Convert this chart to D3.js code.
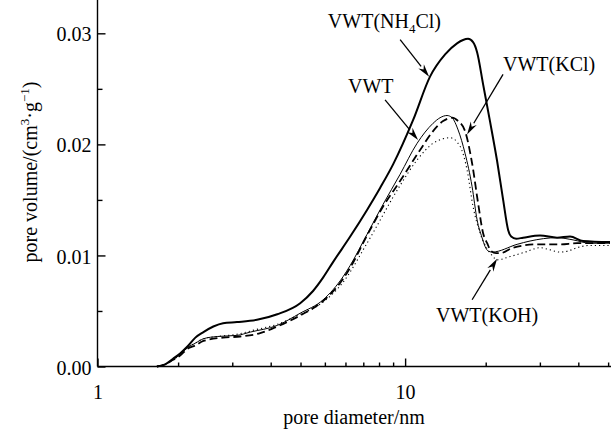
<!DOCTYPE html>
<html>
<head>
<meta charset="utf-8">
<script src="https://cdn.jsdelivr.net/npm/d3@7"></script>
<style>
  body { margin: 0; background: #fff; }
  svg { display: block; }
  text { font-family: "Liberation Serif", "Times New Roman", serif; fill: #000; }
</style>
</head>
<body>
<svg id="chart" width="611" height="430"></svg>
<script>
// pore size distribution (nm, cm3/g)
const vwtX = [1.56, 1.66, 1.76, 1.86, 1.96, 2.08, 2.21, 2.45, 2.84, 3.14, 3.84, 4.56, 5.41, 6.29, 6.63, 7.52, 8.48, 9.63, 10.94, 12.33, 12.99, 13.69, 14.21, 14.87, 15.66, 16.51, 17.14, 17.79, 18.20, 18.61, 19.18, 23.13, 25.48, 31.19, 35.16, 39.92, 46.35];
const vwtY = [0, .0002, .0006, .0011, .0017, .0021, .0025, .0027, .0028, .0031, .0037, .0048, .0060, .0081, .0091, .0119, .0146, .0173, .0201, .0219, .0224, .0226, .0224, .0213, .0192, .0162, .0132, .0116, .0108, .0104, .0103, .0110, .0113, .0116, .0114, .0111, .0111];

const kclX = [1.56, 1.66, 1.76, 1.86, 1.96, 2.08, 2.21, 2.56, 2.91, 3.38, 3.84, 4.56, 5.41, 6.29, 6.63, 7.52, 8.48, 9.63, 11.19, 12.33, 13.29, 14.21, 14.87, 15.66, 16.51, 17.27, 17.93, 18.48, 19.04, 19.76, 20.37, 22.44, 26.85, 31.90, 36.24, 43.01, 46.35];
const kclY = [0, .0002, .0006, .0010, .0016, .0019, .0023, .0026, .0027, .0030, .0036, .0046, .0059, .0079, .0089, .0118, .0144, .0167, .0195, .0212, .0221, .0224, .0221, .0212, .0183, .0147, .0120, .0111, .0104, .0102, .0102, .0107, .0110, .0110, .0111, .0111, .0111];

const kohX = [1.56, 1.66, 1.76, 1.86, 1.96, 2.08, 2.21, 2.45, 2.84, 3.25, 3.84, 4.56, 5.41, 6.29, 7.52, 9.63, 10.94, 12.33, 13.29, 14.0, 15.1, 15.9, 16.63, 17.53, 18.48, 19.18, 19.91, 21.95, 24.55, 27.47, 29.6, 31.9, 33.87, 36.24, 39.92, 46.35];
const kohY = [0, .0002, .0006, .0011, .0017, .0021, .0025, .0027, .0029, .0033, .0038, .0047, .0058, .0076, .0111, .0163, .0186, .0201, .0205, .0206, .0198, .0177, .0144, .0120, .0106, .0100, .0096, .0099, .0103, .0107, .0105, .0103, .0104, .0107, .0109, .0109];

const nh4X = [1.56, 1.66, 1.76, 1.86, 1.96, 2.08, 2.21, 2.38, 2.56, 2.84, 3.30, 3.84, 4.56, 5.02, 5.41, 5.83, 6.63, 7.52, 8.30, 9.14, 10.62, 12.05, 13.49, 14.75, 15.43, 16.02, 16.63, 17.14, 17.93, 18.90, 19.91, 20.83, 21.62, 22.12, 22.96, 24.19, 27.47, 31.19, 34.37, 37.89, 46.35];
const nh4Y = [0, .0002, .0007, .0012, .0018, .0026, .0031, .0036, .0039, .0040, .0042, .0047, .0057, .0068, .0080, .0094, .0117, .0141, .0161, .0182, .0222, .0261, .0281, .0291, .0294, .0295, .0292, .0283, .0254, .0220, .0185, .0150, .0123, .0117, .0115, .0116, .0118, .0116, .0117, .0113, .0112];

const xMajor = [1, 10];
const xMinor = [2, 3, 4, 5, 6, 7, 8, 9, 10, 20, 30, 40, 50];
const yMajor = [0, 0.01, 0.02, 0.03];
const yMinor = [0.005, 0.015, 0.025];

const svg = d3.select("#chart");
const x0 = 97.5, y0 = 366.5;

const xScale = d3.scaleLog().domain([1, 46.7]).range([x0, 611]);
const yScale = d3.scaleLinear().domain([0, 0.033]).range([y0, 0]);

// axes
const xAxis = svg.append("g").attr("transform", `translate(0,${y0})`)
  .call(d3.axisBottom(xScale).tickValues(xMajor).tickSize(-8).tickPadding(20).tickFormat(d3.format("d")));
// the minor ticks in the original sit a little left of the log positions
const xAxisMinor = svg.append("g").attr("transform", `translate(-12,${y0})`)
  .call(d3.axisBottom(xScale).tickValues(xMinor).tickSize(-4).tickFormat(""));
xAxisMinor.select(".domain").remove();

const yAxis = svg.append("g").attr("transform", `translate(${x0},0)`)
  .call(d3.axisLeft(yScale).tickValues(yMajor).tickSize(-8).tickPadding(6).tickFormat(d3.format(".2f")));
const yAxisMinor = svg.append("g").attr("transform", `translate(${x0},0)`)
  .call(d3.axisLeft(yScale).tickValues(yMinor).tickSize(-5).tickFormat(""));
yAxisMinor.select(".domain").remove();

svg.selectAll(".domain").attr("d", null);
xAxis.select(".domain").attr("d", `M${x0},0H611`);
yAxis.select(".domain").attr("d", `M0,0V${y0}`);

svg.selectAll(".domain, .tick line").attr("stroke", "#000").attr("stroke-width", 1.4);
svg.selectAll(".tick text").attr("font-size", 20).attr("font-family", "Liberation Serif, serif").attr("fill", "#000");
yAxis.selectAll(".tick text").attr("dy", "0.38em");
xAxis.selectAll(".tick text").attr("dy", "0.6em");

// curves
const line = d3.line()
  .x(d => xScale(d[0]))
  .y(d => yScale(d[1]))
  .curve(d3.curveMonotoneX);

const series = [
  { xs: kohX, ys: kohY, width: 1.1, dash: "1.2,3" },
  { xs: vwtX, ys: vwtY, width: 1, dash: null },
  { xs: kclX, ys: kclY, width: 1.8, dash: "8,4" },
  { xs: nh4X, ys: nh4Y, width: 2, dash: null }
];

svg.append("g").selectAll("path")
  .data(series)
  .join("path")
  .attr("fill", "none")
  .attr("stroke", "#000")
  .attr("stroke-width", d => d.width)
  .attr("stroke-dasharray", d => d.dash)
  .attr("d", d => line(d.xs.map((v, i) => [v, d.ys[i]])));

// annotations: arrow tip on the curve (data units), tail offset in px
const notes = [
  { tip: [11.97, .0261], tail: [-29, -37] },
  { tip: [11.02, .0204], tail: [-33, -40] },
  { tip: [15.9, .0209], tail: [36, -60] },
  { tip: [19.91, .0097], tail: [-25, 41] }
];

const arrows = svg.append("g");
notes.forEach(n => {
  const tx = xScale(n.tip[0]), ty = yScale(n.tip[1]);
  const sx = tx + n.tail[0], sy = ty + n.tail[1];
  const a = Math.atan2(ty - sy, tx - sx);
  const len = 13, half = 3.5;
  const bx = tx - len * Math.cos(a), by = ty - len * Math.sin(a);
  arrows.append("line")
    .attr("x1", sx).attr("y1", sy).attr("x2", bx).attr("y2", by)
    .attr("stroke", "#000").attr("stroke-width", 1.3);
  arrows.append("path")
    .attr("d", `M${tx},${ty}L${bx + half * Math.sin(a)},${by - half * Math.cos(a)}L${bx + 4 * Math.cos(a)},${by + 4 * Math.sin(a)}L${bx - half * Math.sin(a)},${by + half * Math.cos(a)}Z`)
    .attr("fill", "#000");
});

// labels
const labels = svg.append("g").attr("font-size", 20);

const nh4 = labels.append("text").attr("x", 441).attr("y", 28).attr("text-anchor", "end");
nh4.append("tspan").text("VWT(NH");
nh4.append("tspan").attr("font-size", 13).attr("dy", 5).text("4");
nh4.append("tspan").attr("dy", -5).text("Cl)");

labels.append("text").attr("x", 503).attr("y", 71).text("VWT(KCl)");
labels.append("text").attr("x", 348).attr("y", 93).text("VWT");
labels.append("text").attr("x", 436).attr("y", 322).text("VWT(KOH)");

labels.append("text").attr("x", 354).attr("y", 424).attr("text-anchor", "middle").text("pore diameter/nm");

const yl = labels.append("text").attr("transform", "translate(37,172) rotate(-90)").attr("text-anchor", "middle");
yl.append("tspan").text("pore volume/(cm");
yl.append("tspan").attr("font-size", 13).attr("dy", -8).text("3");
yl.append("tspan").attr("dy", 8).text("·g");
yl.append("tspan").attr("font-size", 13).attr("dy", -8).text("−1");
yl.append("tspan").attr("dy", 8).text(")");
</script>
</body>
</html>
